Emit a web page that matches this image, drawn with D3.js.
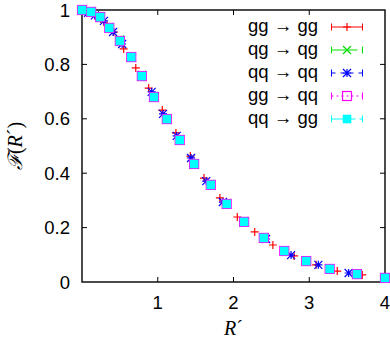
<!DOCTYPE html>
<html><head><meta charset="utf-8">
<script src="https://cdn.jsdelivr.net/npm/d3@7"></script>
<style>body{margin:0;background:#fff}svg{display:block}</style>
</head><body>
<svg id="c" width="390" height="339"></svg>
<script>
// Data
const xTicks = [1, 2, 3, 4];
const yTicks = [0, 0.2, 0.4, 0.6, 0.8, 1];
const yTickLabels = ["0", "0.2", "0.4", "0.6", "0.8", "1"];
const seriesNames = ["gg \u2192 gg", "qg \u2192 qg", "qq \u2192 qq", "gg \u2192 qq", "qq \u2192 gg"];

const ggggX = [0, 0.08, 0.17, 0.29, 0.42, 0.55, 0.71, 0.88, 1.06, 1.24, 1.43, 1.61, 1.82, 2.05, 2.28, 2.52, 2.80, 3.09, 3.37, 3.70];
const ggggY = [1.0, 0.995, 0.98, 0.955, 0.919, 0.857, 0.787, 0.713, 0.632, 0.548, 0.463, 0.382, 0.309, 0.239, 0.184, 0.136, 0.096, 0.063, 0.040, 0.026];

const qgqgX = [0, 0.12, 0.24, 0.36, 0.50, 0.65, 0.79, 0.95, 1.12, 1.29, 1.48, 1.70, 1.91, 2.14, 2.40, 2.67, 2.96, 3.27, 3.63, 4.0];
const qgqgY = [1.0, 0.995, 0.977, 0.938, 0.892, 0.830, 0.760, 0.684, 0.602, 0.525, 0.437, 0.360, 0.290, 0.223, 0.164, 0.116, 0.078, 0.049, 0.030, 0.016];

const qqqqX = [0, 0.08, 0.17, 0.29, 0.41, 0.53, 0.66, 0.79, 0.92, 1.07, 1.25, 1.44, 1.64, 1.86, 2.14, 2.43, 2.76, 3.12, 3.52];
const qqqqY = [1.0, 0.99, 0.98, 0.96, 0.919, 0.875, 0.824, 0.761, 0.699, 0.618, 0.537, 0.456, 0.371, 0.294, 0.224, 0.158, 0.099, 0.063, 0.033];

const ggqqX = [0, 0.12, 0.24, 0.36, 0.50, 0.65, 0.79, 0.95, 1.12, 1.29, 1.48, 1.70, 1.91, 2.14, 2.40, 2.67, 2.96, 3.27, 3.63, 4.0];
const ggqqY = [1.0, 0.993, 0.974, 0.934, 0.886, 0.827, 0.757, 0.680, 0.599, 0.522, 0.434, 0.357, 0.287, 0.221, 0.162, 0.114, 0.077, 0.048, 0.029, 0.015];

const qqggX = [0, 0.12, 0.24, 0.36, 0.50, 0.65, 0.79, 0.95, 1.12, 1.29, 1.48, 1.70, 1.91, 2.14, 2.40, 2.67, 2.96, 3.27, 3.63, 4.0];
const qqggY = [1.0, 0.993, 0.974, 0.934, 0.886, 0.827, 0.757, 0.680, 0.599, 0.522, 0.434, 0.357, 0.287, 0.221, 0.162, 0.114, 0.077, 0.048, 0.029, 0.015];

const svg = d3.select("#c");
const L = 82, R = 385, T = 10, B = 282;
const x = d3.scaleLinear().domain([0, 4]).range([L, R]);
const y = d3.scaleLinear().domain([0, 1]).range([B, T]);
const font = "'Liberation Sans', Arial, Helvetica, sans-serif";

// ticks (inward, mirrored)
const tk = 5;
const g = svg.append("g").attr("stroke", "#000").attr("stroke-width", 1);
yTicks.forEach(v => {
  if (v === 0 || v === 1) return;
  g.append("line").attr("x1", L).attr("x2", L + tk).attr("y1", y(v)).attr("y2", y(v));
  g.append("line").attr("x1", R).attr("x2", R - tk).attr("y1", y(v)).attr("y2", y(v));
});
xTicks.forEach(v => {
  if (v === 4) return;
  g.append("line").attr("x1", x(v)).attr("x2", x(v)).attr("y1", B).attr("y2", B - tk);
  g.append("line").attr("x1", x(v)).attr("x2", x(v)).attr("y1", T).attr("y2", T + tk);
});
svg.append("rect").attr("x", L).attr("y", T).attr("width", R - L).attr("height", B - T)
  .attr("fill", "none").attr("stroke", "#000").attr("stroke-width", 1.4);

// tick labels
yTicks.forEach((v, i) => {
  svg.append("text").attr("x", 70).attr("y", y(v)).attr("dy", "0.36em")
    .attr("text-anchor", "end").attr("font-family", font).attr("font-size", 18.5)
    .text(yTickLabels[i]);
});
xTicks.forEach(v => {
  svg.append("text").attr("x", x(v)).attr("y", 309)
    .attr("text-anchor", "middle").attr("font-family", font).attr("font-size", 18.5)
    .text(String(v));
});

// axis titles
const serif = "'Liberation Serif', 'Times New Roman', serif";
const xl = svg.append("text").attr("x", (L + R) / 2).attr("y", 335).attr("text-anchor", "middle")
  .attr("font-family", serif).attr("font-size", 20);
xl.append("tspan").attr("font-style", "italic").text("R");
xl.append("tspan").text("\u00B4");

const yl = svg.append("text").attr("transform", `translate(22,${(T + B) / 2}) rotate(-90)`)
  .attr("text-anchor", "middle").attr("font-family", serif).attr("font-size", 20);
yl.append("tspan").attr("font-family", "'DejaVu Serif', serif").attr("font-style", "italic").text("\u2131");
yl.append("tspan").text("(");
yl.append("tspan").attr("font-style", "italic").text("R");
yl.append("tspan").text("\u00B4)");

// markers
function drawMarker(sel, type, color, cx, cy) {
  const s = 4;
  if (type === "plus") {
    sel.append("path").attr("d", `M${cx - s},${cy}H${cx + s}M${cx},${cy - s}V${cy + s}`)
      .attr("stroke", color).attr("stroke-width", 1.2).attr("fill", "none");
  } else if (type === "cross") {
    sel.append("path").attr("d", `M${cx - s},${cy - s}L${cx + s},${cy + s}M${cx - s},${cy + s}L${cx + s},${cy - s}`)
      .attr("stroke", color).attr("stroke-width", 1.2).attr("fill", "none");
  } else if (type === "star") {
    sel.append("path").attr("d", `M${cx - s},${cy}H${cx + s}M${cx},${cy - s}V${cy + s}M${cx - s},${cy - s}L${cx + s},${cy + s}M${cx - s},${cy + s}L${cx + s},${cy - s}`)
      .attr("stroke", color).attr("stroke-width", 1.2).attr("fill", "none");
  } else if (type === "box") {
    sel.append("rect").attr("x", cx - 4.5).attr("y", cy - 4.5).attr("width", 9).attr("height", 9)
      .attr("stroke", color).attr("stroke-width", 1.2).attr("fill", "none");
  } else if (type === "fbox") {
    sel.append("rect").attr("x", cx - 4.3).attr("y", cy - 4.3).attr("width", 8.6).attr("height", 8.6)
      .attr("fill", color);
  }
}

const series = [
  { name: seriesNames[0], xs: ggggX, ys: ggggY, color: "#ff0000", type: "plus", dash: null },
  { name: seriesNames[1], xs: qgqgX, ys: qgqgY, color: "#00e000", type: "cross", dash: "26,4" },
  { name: seriesNames[2], xs: qqqqX, ys: qqqqY, color: "#0000ff", type: "star", dash: "4,5" },
  { name: seriesNames[3], xs: ggqqX, ys: ggqqY, color: "#ff00ff", type: "box", dash: "2,3" },
  { name: seriesNames[4], xs: qqggX, ys: qqggY, color: "#00ffff", type: "fbox", dash: "24,4" }
];

const pts = svg.append("g");
series.forEach(s => {
  s.xs.forEach((xv, i) => drawMarker(pts, s.type, s.color, x(xv), y(s.ys[i])));
});

// legend
const rowY = [27, 50, 73, 96, 119];
const lg = svg.append("g");
series.forEach((s, i) => {
  const ry = rowY[i];
  lg.append("text").attr("x", 318).attr("y", ry + 5).attr("text-anchor", "end")
    .attr("font-family", font).attr("font-size", 18.5).text(s.name);
  const x1 = 331.5, x2 = 362.5;
  const line = lg.append("line").attr("x1", x1).attr("x2", x2).attr("y1", ry).attr("y2", ry)
    .attr("stroke", s.color).attr("stroke-width", 1);
  if (s.dash) line.attr("stroke-dasharray", s.dash);
  lg.append("path").attr("d", `M${x1},${ry - 3.5}V${ry + 3.5}M${x2},${ry - 3.5}V${ry + 3.5}`)
    .attr("stroke", s.color).attr("stroke-width", 1);
  drawMarker(lg, s.type, s.color, 347, ry);
});
</script>
</body></html>
